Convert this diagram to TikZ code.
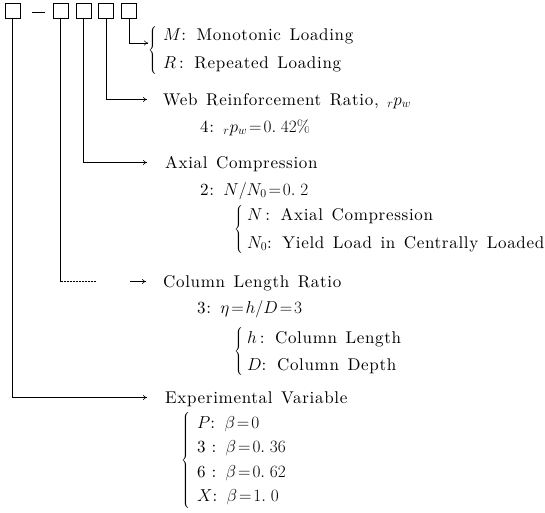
\documentclass[tikz,border=0pt]{standalone}
\usepackage{fontspec}
\usetikzlibrary{arrows.meta}
\newfontfamily\lsfont{lmroman10-regular.otf}[LetterSpace=4]
\newcommand\widesp{\spaceskip=0.5em plus 0.1em\relax}
\newcommand\gap{\hspace{0.55em}}
\tikzset{
  sq/.style={draw, minimum size=15pt, inner sep=0pt, line width=0.6pt},
  ln/.style={line width=0.5pt},
  conn/.style={line width=0.5pt, -{To[length=4pt,width=5pt]}},
  lbl/.style={anchor=base west, inner sep=0pt, font=\fontsize{17}{20}\lsfont\widesp},
  brc/.style={anchor=west, inner sep=0pt, font=\fontsize{17}{20}\selectfont}
}
\begin{document}
\begin{tikzpicture}[x=1pt,y=-1pt]
\useasboundingbox (0,0) rectangle (545,512);
% code boxes
\node[sq] (s1) at (12.5,10.5) {};
\node[inner sep=0pt] (dash) at (38.5,12.5) {\rule{13pt}{0.7pt}};
\node[sq] (s2) at (60.5,10.5) {};
\node[sq] (s3) at (83.5,10.5) {};
\node[sq] (s4) at (106,10.5) {};
\node[sq] (s5) at (129,10.5) {};

% M / R
\node[brc] (b5) at (148,50) {$\left\{\vrule height 19pt depth 19pt width 0pt\right.$};
\node[lbl] (m) at (163,40) {$M$: Monotonic Loading};
\node[lbl] (r) at (163,68) {$R$\,: Repeated Loading};

% web reinforcement
\node[lbl] (web) at (163,105) {Web Reinforcement Ratio, ${}_{r}p_{w}$};
\node[lbl] (web4) at (200,132) {4:\gap${}_{r}p_{w}\!=\!0.\;42\%$};

% axial compression
\node[lbl] (ax) at (165,168) {Axial Compression};
\node[lbl] (ax2) at (200,195) {2:\gap$N/N_0\!=\!0.\;2$};
\node[brc] (b3) at (234,230) {$\left\{\vrule height 21pt depth 21pt width 0pt\right.$};
\node[lbl] (axn) at (247,220) {$N$\,: Axial Compression};
\node[lbl] (axn0) at (247,248) {$N_0$: Yield Load in Centrally Loaded};

% column length ratio
\node[lbl] (col) at (163,287) {Column Length Ratio};
\node[lbl] (col3) at (197,313) {3:\gap$\eta\!=\!h/D\!=\!3$};
\node[brc] (b2) at (234,352) {$\left\{\vrule height 21pt depth 21pt width 0pt\right.$};
\node[lbl] (colh) at (247,343) {$h$\,: Column Length};
\node[lbl] (cold) at (247,370) {$D$: Column Depth};

% experimental variable
\node[lbl] (ev) at (165,403) {Experimental Variable};
\node[brc] (b1) at (181,461) {$\left\{\vrule height 45pt depth 45pt width 0pt\right.$};
\node[lbl] (evp) at (197,428) {$P$:\gap$\beta\!=\!0$};
\node[lbl] (ev3) at (197,452) {3\hspace{0.35em}:\gap$\beta\!=\!0.\;36$};
\node[lbl] (ev6) at (197,477) {6\hspace{0.35em}:\gap$\beta\!=\!0.\;62$};
\node[lbl] (evx) at (197,501) {$X$:\gap$\beta\!=\!1.\;0$};

% connectors
\draw[conn] (s5.south) |- ([yshift=7pt]b5.west);
\draw[conn] (s4.south) |- ([shift={(-16pt,5.5pt)}]web.base west);
\draw[conn] (s3.south) |- ([shift={(-18pt,5.5pt)}]ax.base west);
\path ([shift={(-17pt,5.5pt)}]col.base west) coordinate (c2end);
\draw[ln] (s2.south) -- (s2.south |- c2end) coordinate (c2corner);
\draw[ln, densely dotted] (c2corner) -- ++(36,0);
\draw[conn] ([xshift=-16pt]c2end) -- (c2end);
\draw[conn] (s1.south) |- ([shift={(-18pt,5.5pt)}]ev.base west);
\end{tikzpicture}
\end{document}
